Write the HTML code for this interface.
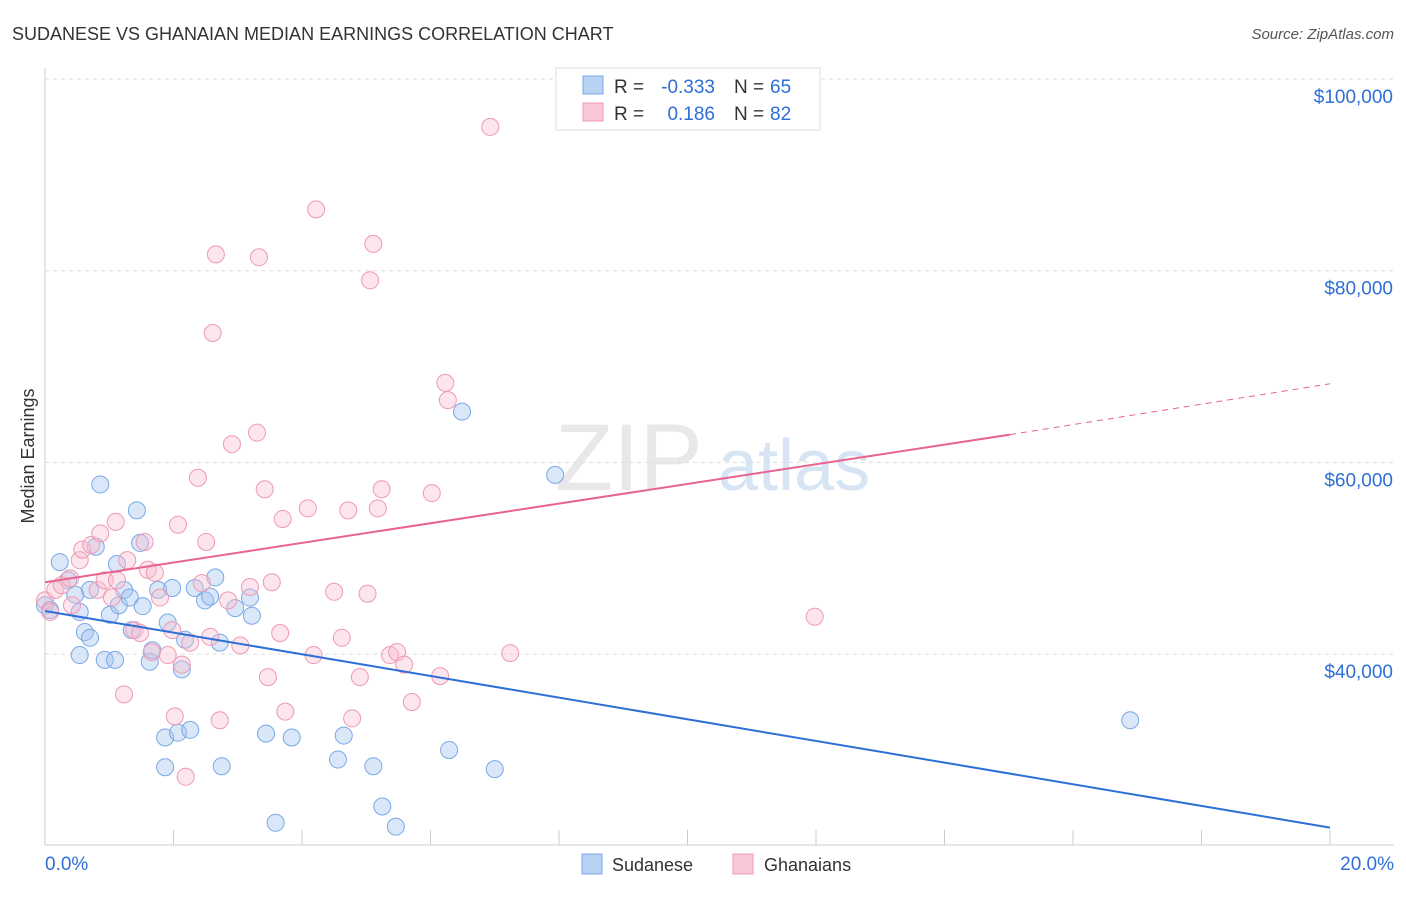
<!DOCTYPE html>
<html><head><meta charset="utf-8"><style>
body{margin:0;background:#fff;font-family:"Liberation Sans",sans-serif;}
svg text{font-family:"Liberation Sans",sans-serif;}
</style></head><body>
<svg id="chart" width="1406" height="892" viewBox="0 0 1406 892" xmlns="http://www.w3.org/2000/svg">
<text x="12" y="40" font-size="18" fill="#333">SUDANESE VS GHANAIAN MEDIAN EARNINGS CORRELATION CHART</text>
<text x="1394" y="39" font-size="15" fill="#555" font-style="italic" text-anchor="end">Source: ZipAtlas.com</text>
<text x="555" y="490" font-size="95" fill="#e8e8e8" font-family="Liberation Serif">ZIP</text>
<text x="718" y="490" font-size="72" fill="#d6e4f4">atlas</text>
<text transform="translate(34,456) rotate(-90)" font-size="18" fill="#333" text-anchor="middle">Median Earnings</text>
<g id="grid"></g><g id="axes"></g><g id="marks"></g>
<g>
<rect x="556" y="68" width="264" height="62" fill="#fff" stroke="#ddd"/>
<rect x="583" y="76" width="20" height="18" fill="#b8d2f3" stroke="#7aa8e6"/>
<rect x="583" y="103" width="20" height="18" fill="#f9c8d6" stroke="#ee9ab4"/>
<text x="614" y="93" font-size="19" fill="#333">R =</text>
<text x="715" y="93" font-size="19" fill="#2d6fd6" text-anchor="end">-0.333</text>
<text x="734" y="93" font-size="19" fill="#333">N =</text>
<text x="770" y="93" font-size="19" fill="#2d6fd6">65</text>
<text x="614" y="120" font-size="19" fill="#333">R =</text>
<text x="715" y="120" font-size="19" fill="#2d6fd6" text-anchor="end">0.186</text>
<text x="734" y="120" font-size="19" fill="#333">N =</text>
<text x="770" y="120" font-size="19" fill="#2d6fd6">82</text>
</g>
<g>
<rect x="582" y="854" width="20" height="20" fill="#b8d2f3" stroke="#7aa8e6"/>
<text x="612" y="871" font-size="18" fill="#333">Sudanese</text>
<rect x="733" y="854" width="20" height="20" fill="#f9c8d6" stroke="#ee9ab4"/>
<text x="764" y="871" font-size="18" fill="#333">Ghanaians</text>
</g>
</svg>
<script>
const yTicks=[40000,60000,80000,100000];
const yTickLabels=["$40,000","$60,000","$80,000","$100,000"];
const xTickValues=[0,2,4,6,8,10,12,14,16,18,20];
const sudaneseX=[0,0.08,0.23,0.36,0.47,0.54,0.7,0.79,0.86,0.62,0.7,0.54,0.93,1.09,1.01,1.12,1.15,1.23,1.32,1.35,1.43,1.48,1.52,1.63,1.67,1.76,1.87,1.87,1.91,1.98,2.07,2.13,2.18,2.26,2.33,2.49,2.57,2.65,2.72,2.75,2.96,3.19,3.22,3.44,3.59,3.84,4.56,4.65,5.11,5.25,5.46,6.29,6.49,7.0,7.94,16.89];
const sudaneseY=[45.1,44.6,49.6,47.7,46.2,44.4,46.7,51.2,57.7,42.3,41.7,39.9,39.4,39.4,44.1,49.4,45.1,46.7,45.9,42.5,55.0,51.6,45.0,39.2,40.4,46.7,28.2,31.3,43.3,46.9,31.8,38.4,41.5,32.1,46.9,45.6,46.0,48.0,41.2,28.3,44.8,45.9,44.0,31.7,22.4,31.3,29.0,31.5,28.3,24.1,22.0,30.0,65.3,28.0,58.7,33.1];
const ghanaX=[0,0.08,0.16,0.26,0.39,0.42,0.54,0.58,0.72,0.82,0.86,0.93,1.04,1.1,1.12,1.23,1.28,1.39,1.48,1.55,1.6,1.66,1.71,1.79,1.91,1.98,2.02,2.07,2.13,2.19,2.26,2.38,2.44,2.51,2.57,2.61,2.66,2.72,2.85,2.91,3.04,3.19,3.3,3.33,3.42,3.47,3.53,3.66,3.7,3.74,4.09,4.18,4.22,4.5,4.62,4.72,4.78,4.9,5.02,5.06,5.11,5.18,5.24,5.37,5.48,5.59,5.71,6.02,6.15,6.23,6.27,6.93,7.24,11.98];
const ghanaY=[45.6,44.4,46.7,47.2,47.9,45.1,49.8,50.9,51.4,46.7,52.6,47.7,45.9,53.8,47.7,35.8,49.8,42.5,42.2,51.7,48.8,40.2,48.5,45.9,39.9,42.5,33.5,53.5,38.9,27.2,41.2,58.4,47.4,51.7,41.8,73.5,81.7,33.1,45.6,61.9,40.9,47.0,63.1,81.4,57.2,37.6,47.5,42.2,54.1,34.0,55.2,39.9,86.4,46.5,41.7,55.0,33.3,37.6,46.3,79.0,82.8,55.2,57.2,39.9,40.2,38.9,35.0,56.8,37.7,68.3,66.5,95.0,40.1,43.9];
const blueTrend=[44.5,21.9];
const pinkTrend=[47.5,62.9,68.2];
const pinkSolidEnd=15.02;
const xMax=20;
const NS="http://www.w3.org/2000/svg";
const X=v=>45+v/20*1285;
const Y=k=>79+(100-k)/20*191.7;
function mk(parent,tag,attrs){const e=document.createElementNS(NS,tag);for(const k in attrs)e.setAttribute(k,attrs[k]);document.getElementById(parent).appendChild(e);return e;}
yTicks.forEach((t,i)=>{
 const l=mk('grid','line',{x1:45,x2:1394,y1:Y(t/1000),y2:Y(t/1000),stroke:'#ddd','stroke-dasharray':'4,4'});
 
 
 const tx=mk('grid','text',{x:1393,y:Y(t/1000)+24,'font-size':19,fill:'#2d6fd6','text-anchor':'end'});
 tx.textContent=yTickLabels[i];
 
 
});
const ax=mk('axes','line',{x1:45,x2:45,y1:68,y2:845,stroke:'#ccc'});


const bx=mk('axes','line',{x1:45,x2:1394,y1:845,y2:845,stroke:'#ccc'});


xTickValues.forEach(v=>{
 const t=mk('axes','line',{x1:X(v),x2:X(v),y1:830,y2:845,stroke:'#ccc'});
 
 
});
const xl0=mk('axes','text',{x:45,y:870,'font-size':19,fill:'#2d6fd6'});xl0.textContent=xTickValues[0].toFixed(1)+'%';


const xl1=mk('axes','text',{x:1394,y:870,'font-size':19,fill:'#2d6fd6','text-anchor':'end'});xl1.textContent=xTickValues[xTickValues.length-1].toFixed(1)+'%';


sudaneseX.forEach((x,i)=>{
 const c=mk('marks','circle',{cx:X(x),cy:Y(sudaneseY[i]),r:8.5,fill:'rgba(160,196,240,0.4)',stroke:'#7aa8e6','stroke-width':1});
 
 
});
ghanaX.forEach((x,i)=>{
 const c=mk('marks','circle',{cx:X(x),cy:Y(ghanaY[i]),r:8.5,fill:'rgba(248,190,208,0.4)',stroke:'#ee9ab4','stroke-width':1});
 
 
});
const bl=mk('marks','line',{x1:X(0),y1:Y(blueTrend[0]),x2:X(xMax),y2:Y(blueTrend[1]),stroke:'#2d6fd6','stroke-width':2});


const pl=mk('marks','line',{x1:X(0),y1:Y(pinkTrend[0]),x2:X(pinkSolidEnd),y2:Y(pinkTrend[1]),stroke:'#e8638f','stroke-width':2});


const pd=mk('marks','line',{x1:X(pinkSolidEnd),y1:Y(pinkTrend[1]),x2:X(xMax),y2:Y(pinkTrend[2]),stroke:'#e8638f','stroke-width':1,'stroke-dasharray':'6,5'});


</script>
</body></html>
